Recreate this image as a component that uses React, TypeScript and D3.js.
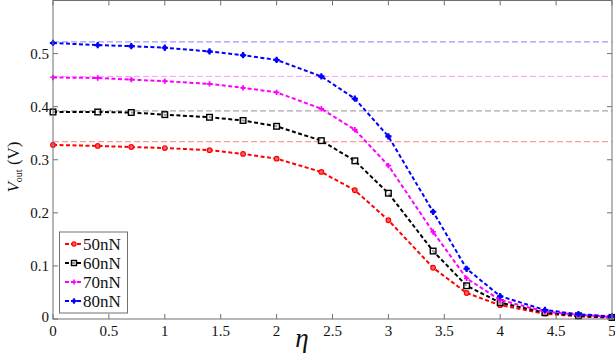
import React from "react";
import * as d3 from "d3";

const etaValues = [0, 0.4, 0.7, 1, 1.4, 1.7, 2, 2.4, 2.7, 3, 3.4, 3.7, 4, 4.4, 4.7, 5];
const v50 = [0.328, 0.326, 0.324, 0.322, 0.318, 0.311, 0.302, 0.277, 0.2425, 0.186, 0.0965, 0.049, 0.026, 0.01, 0.005, 0.002];
const v60 = [0.39, 0.39, 0.389, 0.385, 0.38, 0.374, 0.363, 0.336, 0.298, 0.237, 0.128, 0.0626, 0.0307, 0.012, 0.006, 0.003];
const v70 = [0.455, 0.454, 0.451, 0.448, 0.443, 0.4355, 0.427, 0.396, 0.3565, 0.289, 0.164, 0.0765, 0.0357, 0.014, 0.008, 0.004];
const v80 = [0.52, 0.516, 0.514, 0.511, 0.504, 0.497, 0.488, 0.457, 0.415, 0.344, 0.202, 0.0946, 0.043, 0.017, 0.009, 0.005];
const refLevels = [0.334, 0.392, 0.457, 0.522];
const seriesNames = ["50nN", "60nN", "70nN", "80nN"];
const xTicks = [0, 0.5, 1, 1.5, 2, 2.5, 3, 3.5, 4, 4.5, 5];
const yTicks = [0, 0.1, 0.2, 0.3, 0.4, 0.5];

const colors = ["#ff0000", "#000000", "#ff00ff", "#0000ff"];
const refColors = ["#ff8080", "#909090", "#ff99ff", "#8080ff"];

const W = 615, H = 357;
const left = 53, right = 612, top = 0.5, bottom = 319;

export default function App() {
  const x = d3.scaleLinear().domain([0, 5]).range([left, right]);
  const y = d3.scaleLinear().domain([0, 0.6]).range([bottom, top]);
  const allSeries = [v50, v60, v70, v80];
  const line = d3.line<number>().x((_, i) => x(etaValues[i])).y((d) => y(d));
  const serif = "\"Liberation Serif\", \"Times New Roman\", Times, serif";
  const tStyle = { fontFamily: serif };
  const axisColor = "#707070";

  const marker = (k: number, cx: number, cy: number, key: string, scale = 1) => {
    const c = colors[k];
    if (k === 0) return <circle key={key} cx={cx} cy={cy} r={2.3 * scale} fill="#ff6060" stroke={c} strokeWidth={1.2} />;
    if (k === 1) return <rect key={key} x={cx - 2.8 * scale} y={cy - 2.8 * scale} width={5.6 * scale} height={5.6 * scale} fill="#fff" fillOpacity={0.6} stroke={c} strokeWidth={1.4} />;
    if (k === 2) {
      const p = d3.symbol(d3.symbolCross, 16 * scale * scale)();
      return <path key={key} d={p || ""} transform={`translate(${cx},${cy})`} fill={c} />;
    }
    const p = d3.symbol(d3.symbolCross, 22 * scale * scale)();
    return (
      <g key={key}>
        <path d={p || ""} transform={`translate(${cx},${cy})`} fill={c} />
        <circle cx={cx} cy={cy} r={2.2 * scale} fill={c} />
      </g>
    );
  };

  const legendY = [244, 263, 282, 301];

  return (
    <svg width={W} height={H} style={{ position: "absolute", left: 0, top: 0, background: "#fff", fontFamily: serif }}>
      {refLevels.map((v, i) => (
        <line key={"ref" + i} x1={left} x2={right} y1={y(v)} y2={y(v)} stroke={refColors[i]} strokeWidth={1} strokeDasharray="6,3" />
      ))}
      {allSeries.map((s, k) => (
        <g key={"s" + k}>
          <path d={line(s) || ""} fill="none" stroke={colors[k]} strokeWidth={2} strokeDasharray="4,2.5" />
          {s.map((v, i) => marker(k, x(etaValues[i]), y(v), `m${k}-${i}`))}
        </g>
      ))}
      <rect x={left} y={top} width={right - left} height={bottom - top} fill="none" stroke={axisColor} strokeWidth={1} />
      {xTicks.map((t) => (
        <g key={"xt" + t}>
          <line x1={x(t)} x2={x(t)} y1={bottom} y2={bottom - 5} stroke={axisColor} />
          <line x1={x(t)} x2={x(t)} y1={top} y2={top + 5} stroke={axisColor} />
          <text x={x(t)} y={336} fontSize={15} textAnchor="middle" fill="#111" style={tStyle}>{String(t)}</text>
        </g>
      ))}
      {yTicks.map((t) => (
        <g key={"yt" + t}>
          <line x1={left} x2={left + 5} y1={y(t)} y2={y(t)} stroke={axisColor} />
          <line x1={right} x2={right - 5} y1={y(t)} y2={y(t)} stroke={axisColor} />
          <text x={49} y={t === 0 ? y(t) + 3 : y(t) + 5} fontSize={15} textAnchor="end" fill="#111" style={tStyle}>{String(t)}</text>
        </g>
      ))}
      <text x={302} y={347} fontSize={27} fontStyle="italic" textAnchor="middle" fill="#111" style={tStyle}>η</text>
      <g transform="translate(19,167) rotate(-90)">
        <text textAnchor="middle" fontSize={17} fill="#111" style={tStyle}>
          <tspan fontStyle="italic">V</tspan>
          <tspan fontSize={10} dy={3}>out</tspan>
          <tspan dy={-3}> (V)</tspan>
        </text>
      </g>
      <rect x={59.5} y={232} width={68} height={81} fill="#fff" stroke={axisColor} strokeWidth={1} />
      {seriesNames.map((n, k) => (
        <g key={"lg" + k}>
          <line x1={65} x2={82} y1={legendY[k]} y2={legendY[k]} stroke={colors[k]} strokeWidth={2} strokeDasharray="4,2" />
          {marker(k, 74, legendY[k], "lm" + k, 0.9)}
          <text x={83} y={legendY[k] + 5.5} fontSize={17} fill="#111" style={tStyle}>{n}</text>
        </g>
      ))}
    </svg>
  );
}
